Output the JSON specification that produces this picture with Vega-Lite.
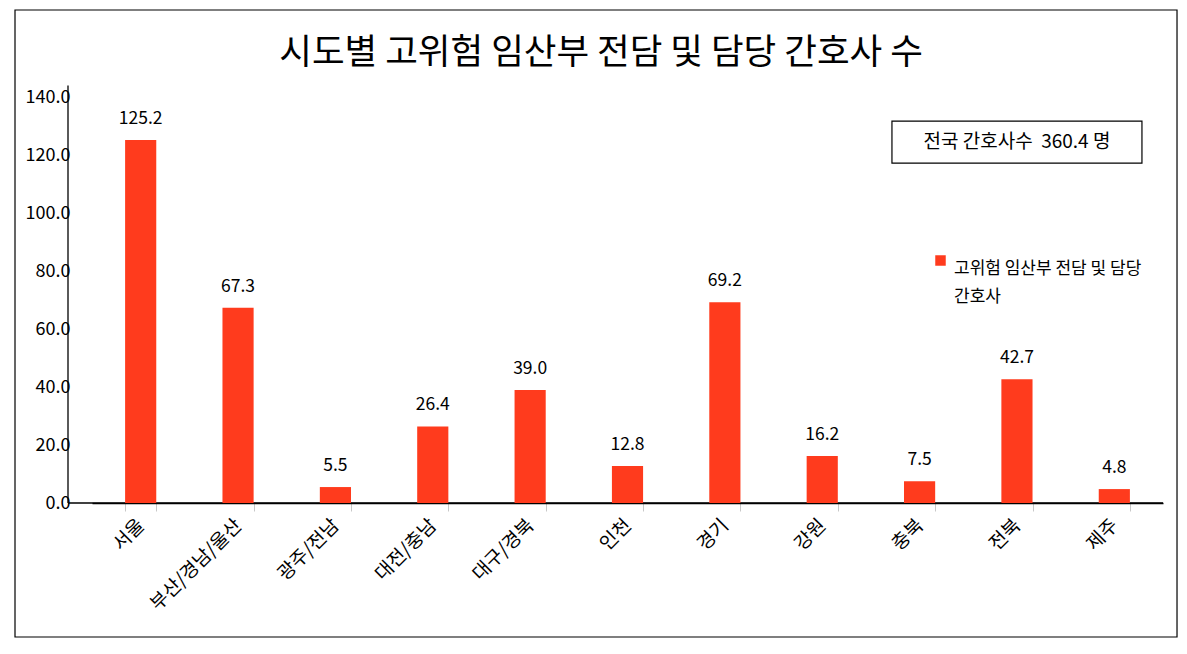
{
  "$schema": "https://vega.github.io/schema/vega-lite/v6.json",
  "width": 1095,
  "height": 406,
  "autosize": {"type": "none"},
  "padding": {"left": 68, "top": 97, "right": 24, "bottom": 151},
  "background": "white",
  "config": {
    "view": {"stroke": null},
    "font": "Noto Sans CJK KR",
    "style": {"guide-label": {"lineHeight": 28}}
  },
  "datasets": {
    "bars": [
      {"region": "서울", "value": 125.2, "series": "고위험 임산부 전담 및 담당 간호사"},
      {"region": "부산/경남/울산", "value": 67.3, "series": "고위험 임산부 전담 및 담당 간호사"},
      {"region": "광주/전남", "value": 5.5, "series": "고위험 임산부 전담 및 담당 간호사"},
      {"region": "대전/충남", "value": 26.4, "series": "고위험 임산부 전담 및 담당 간호사"},
      {"region": "대구/경북", "value": 39.0, "series": "고위험 임산부 전담 및 담당 간호사"},
      {"region": "인천", "value": 12.8, "series": "고위험 임산부 전담 및 담당 간호사"},
      {"region": "경기", "value": 69.2, "series": "고위험 임산부 전담 및 담당 간호사"},
      {"region": "강원", "value": 16.2, "series": "고위험 임산부 전담 및 담당 간호사"},
      {"region": "충북", "value": 7.5, "series": "고위험 임산부 전담 및 담당 간호사"},
      {"region": "전북", "value": 42.7, "series": "고위험 임산부 전담 및 담당 간호사"},
      {"region": "제주", "value": 4.8, "series": "고위험 임산부 전담 및 담당 간호사"}
    ],
    "note": [
      {"region": "전북", "label": "전국 간호사수\u00a0 360.4 명", "top": 131.7, "bottom": 117.2, "mid": 124.5}
    ],
    "heading": [
      {"title": "시도별 고위험 임산부 전담 및 담당 간호사 수"}
    ]
  },
  "resolve": {"scale": {"x": "independent"}, "axis": {"x": "independent"}},
  "layer": [
    {
      "layer": [
        {
          "data": {"values": [{}]},
          "mark": {"type": "rect", "fill": null, "stroke": "#000000", "strokeWidth": 1.2, "clip": false},
          "encoding": {
            "x": {"datum": -0.0484, "type": "quantitative", "scale": {"domain": [0, 1]}, "axis": null},
            "x2": {"datum": 1.0128},
            "y": {"datum": 170.0, "type": "quantitative"},
            "y2": {"datum": -46.2}
          }
        },
        {
          "data": {"values": [{}]},
          "mark": {"type": "rule", "color": "#000000", "strokeWidth": 1.5},
          "encoding": {
            "x": {"datum": 0, "type": "quantitative", "axis": null},
            "x2": {"datum": 1},
            "y": {"datum": 0, "type": "quantitative"}
          }
        },
        {
          "data": {"values": [{}]},
          "mark": {"type": "rule", "color": "#000000", "strokeWidth": 1.3},
          "encoding": {
            "x": {"datum": 0, "type": "quantitative", "axis": null},
            "y": {"datum": 0, "type": "quantitative"},
            "y2": {"datum": 144}
          }
        },
        {
          "data": {"name": "heading"},
          "mark": {"type": "text", "fontSize": 35.5, "baseline": "middle", "align": "center", "color": "#000000", "font": "Noto Sans CJK KR"},
          "encoding": {
            "x": {"datum": 0.4868, "type": "quantitative", "axis": null},
            "y": {"datum": 155.3, "type": "quantitative"},
            "text": {"field": "title"}
          }
        }
      ]
    },
    {
      "layer": [
        {
          "data": {"name": "bars"},
          "mark": {"type": "bar", "color": "#FF3B1D"},
          "encoding": {
            "x": {
              "field": "region",
              "type": "nominal",
              "sort": null,
              "scale": {"range": [24, 1095], "paddingInner": 0.68, "paddingOuter": 0.34},
              "axis": {
                "orient": "bottom",
                "title": null,
                "labelAngle": -45,
                "labelAlign": "right",
                "labelBaseline": "middle",
                "labelFontSize": 19,
                "labelColor": "#000000",
                "labelPadding": 11,
                "labelFont": "Noto Sans CJK KR",
                "domainColor": "#000000",
                "domainWidth": 1.5,
                "tickBand": "extent",
                "tickColor": "#C8C8C8",
                "tickSize": 8,
                "grid": false
              }
            },
            "y": {
              "field": "value",
              "type": "quantitative",
              "scale": {"domain": [0, 140], "nice": false},
              "axis": {
                "title": null,
                "values": [0, 20, 40, 60, 80, 100, 120, 140],
                "format": ".1f",
                "ticks": false,
                "grid": false,
                "labelFontSize": 18,
                "labelColor": "#000000",
                "labelPadding": -2,
                "labelFont": "Noto Sans CJK KR",
                "domain": false
              }
            },
            "color": {
              "field": "series",
              "type": "nominal",
              "scale": {"range": ["#FF3B1D"]},
              "legend": {
                "title": null,
                "orient": "none",
                "legendX": 864,
                "legendY": 155,
                "symbolType": "square",
                "symbolSize": 110,
                "symbolStrokeWidth": 0,
                "labelFontSize": 17,
                "labelColor": "#000000",
                "labelFont": "Noto Sans CJK KR",
                "labelOffset": 5,
                "labelLimit": 400,
                "labelBaseline": "top",
                "labelExpr": "['고위험 임산부 전담 및 담당', '간호사']"
              }
            }
          }
        },
        {
          "data": {"name": "bars"},
          "mark": {"type": "text", "fontSize": 17.5, "dy": -16, "baseline": "alphabetic", "color": "#000000", "font": "Noto Sans CJK KR"},
          "encoding": {
            "x": {"field": "region", "type": "nominal", "sort": null},
            "y": {"field": "value", "type": "quantitative"},
            "text": {"field": "value", "type": "quantitative", "format": ".1f"}
          }
        },
        {
          "data": {"name": "note"},
          "mark": {"type": "bar", "width": 250, "fill": "white", "stroke": "#000000", "strokeWidth": 1.2},
          "encoding": {
            "x": {"field": "region", "type": "nominal", "sort": null},
            "y": {"field": "top", "type": "quantitative"},
            "y2": {"field": "bottom"}
          }
        },
        {
          "data": {"name": "note"},
          "mark": {"type": "text", "fontSize": 19, "baseline": "middle", "color": "#000000", "font": "Noto Sans CJK KR"},
          "encoding": {
            "x": {"field": "region", "type": "nominal", "sort": null},
            "y": {"field": "mid", "type": "quantitative"},
            "text": {"field": "label"}
          }
        }
      ]
    }
  ]
}
